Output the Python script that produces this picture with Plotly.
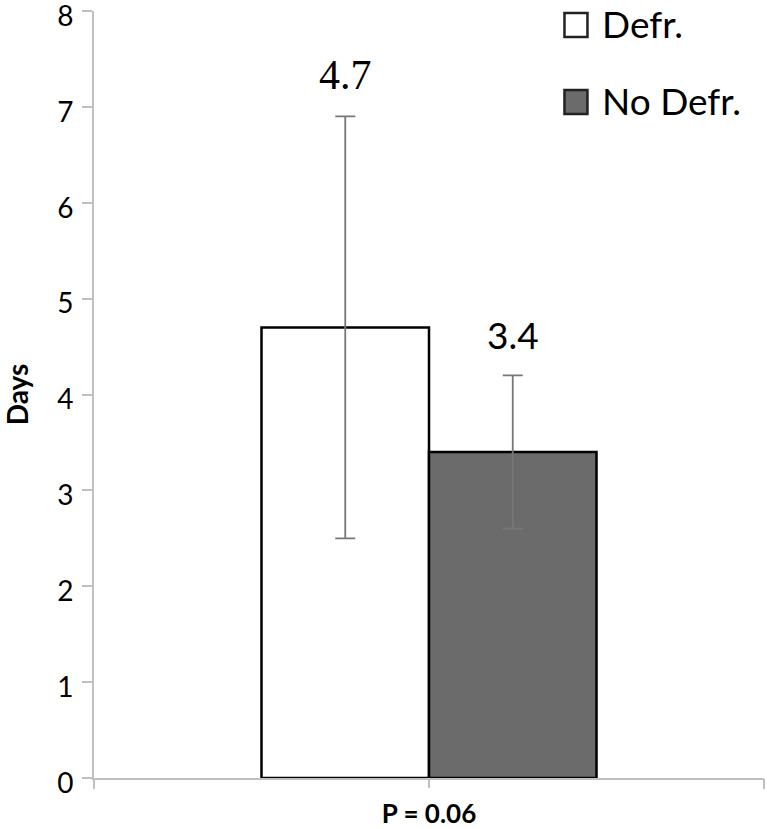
import plotly.graph_objects as go

categories = ["P = 0.06"]
series_names = ["Defr.", "No Defr."]
means = [4.7, 3.4]
err_low = [2.5, 2.6]
err_high = [6.9, 4.2]
label_text = ["4.7", "3.4"]
fills = ["#ffffff", "#6b6b6b"]
label_fonts = ["Liberation Serif", "Lato"]
label_sizes = [42, 37]
y_ticks = [0, 1, 2, 3, 4, 5, 6, 7, 8]

bargap = 0.5
fig = go.Figure()
for i, name in enumerate(series_names):
    fig.add_trace(go.Bar(
        x=categories, y=[means[i]], name=name, showlegend=False,
        marker=dict(color=fills[i], line=dict(color="#000000", width=2.5)),
        error_y=dict(type="data", symmetric=False,
                     array=[err_high[i] - means[i]],
                     arrayminus=[means[i] - err_low[i]],
                     color="#777777", thickness=1.8, width=10),
    ))

n = len(series_names)
group_w = 1 - bargap
for i in range(n):
    xc = -group_w / 2 + group_w / n * (i + 0.5)
    fig.add_annotation(x=xc, y=err_high[i], xref="x2", yref="y",
                       text=label_text[i], showarrow=False, yanchor="bottom",
                       yshift=16, font=dict(family=label_fonts[i], size=label_sizes[i], color="#000"))

# legend drawn as key squares + labels in the top-right corner
leg_x0, leg_sq, leg_top, leg_step = 0.7022, 0.0343, 0.9974, 0.1004
for i, name in enumerate(series_names):
    top = leg_top - i * leg_step
    bot = top - 0.0313
    fig.add_shape(type="rect", xref="paper", yref="paper",
                  x0=leg_x0, x1=leg_x0 + leg_sq, y0=bot, y1=top,
                  fillcolor=fills[i], line=dict(color="#222222", width=2.5))
    fig.add_annotation(x=leg_x0 + leg_sq + 0.019, y=(top + bot) / 2 + 0.002, xref="paper", yref="paper",
                       text=name, showarrow=False, xanchor="left", yanchor="middle",
                       font=dict(size=37, family="Lato", color="#000"))

fig.add_trace(go.Scatter(x=[0], y=[0], xaxis="x2", mode="markers",
                         marker=dict(opacity=0), showlegend=False, hoverinfo="skip"))

fig.update_layout(
    width=767, height=829,
    margin=dict(l=94, r=3, t=11, b=51),
    paper_bgcolor="white", plot_bgcolor="white",
    barmode="group", bargap=bargap, bargroupgap=0,
    font=dict(family="Lato", color="#000000"),
    showlegend=False,
    xaxis=dict(type="category", showline=True, linecolor="#c0c0c0", linewidth=2,
               ticks="outside", ticklen=8, tickcolor="#c0c0c0", tickwidth=2,
               showticklabels=True, tickvals=categories,
               ticktext=["<b>" + c + "</b>" for c in categories],
               tickfont=dict(size=26, family="Lato"), showgrid=False,
               ticklabelstandoff=4,
               range=[-0.5, 0.5], automargin=False),
    xaxis2=dict(overlaying="x", range=[-0.5, 0.5], tickvals=[-0.5, 0.5],
                ticks="outside", ticklen=10, tickcolor="#c0c0c0", tickwidth=2,
                showticklabels=False, showline=False, showgrid=False,
                zeroline=False, side="bottom", anchor="y", automargin=False),
    yaxis=dict(range=[0, 8], tickvals=y_ticks, showline=True, linecolor="#c0c0c0",
               linewidth=2, ticks="outside", ticklen=10, tickcolor="#c0c0c0",
               tickwidth=2, showgrid=False, zeroline=False, automargin=False,
               ticklabeloverflow="allow", ticklabelshift=5, ticklabelstandoff=3,
               tickfont=dict(size=28, family="Lato", color="#000000"),
               title=dict(text="<b>Days</b>", font=dict(size=28, family="Lato"),
                          standoff=42)),
)

fig.write_html("out.html", config={"displayModeBar": False},
               post_script="document.body.style.margin='0';document.body.style.overflow='hidden';")
